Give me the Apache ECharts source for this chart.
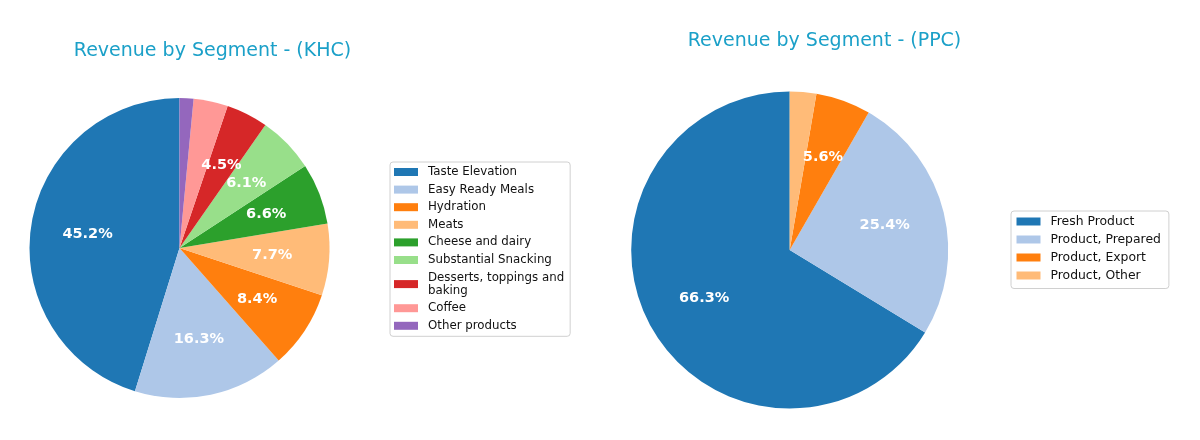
<!DOCTYPE html>
<html>
<head>
<meta charset="utf-8">
<script src="https://cdn.jsdelivr.net/npm/echarts@6/dist/echarts.min.js"></script>
<style>
  html, body { margin: 0; padding: 0; background: #fff; }
  #chart { width: 1200px; height: 440px; }
</style>
</head>
<body>
<div id="chart"></div>
<script>
// segment shares in percent
const khcSegments = ['Taste Elevation', 'Easy Ready Meals', 'Hydration', 'Meats', 'Cheese and dairy',
  'Substantial Snacking', 'Desserts, toppings and baking', 'Coffee', 'Other products']
const khcValues = [45.2, 16.3, 8.4, 7.7, 6.6, 6.1, 4.5, 3.7, 1.5]

const ppcSegments = ['Fresh Product', 'Product, Prepared', 'Product, Export', 'Product, Other']
const ppcValues = [66.3, 25.4, 5.6, 2.7]

const tab20 = ['#1f77b4', '#aec7e8', '#ff7f0e', '#ffbb78', '#2ca02c', '#98df8a', '#d62728', '#ff9896', '#9467bd']
const font = '"DejaVu Sans", Verdana, sans-serif'
const titleColor = '#1ba0c8'

const toData = (names, vals) => names.map((n, i) => ({ name: n, value: vals[i] }))

// legend text wraps like matplotlib did for the long name
const wrap = name => {
    if (name.length <= 22) return name
    const cut = name.lastIndexOf(' ', 22)
    return name.slice(0, cut) + '\n' + name.slice(cut + 1)
}

// main pie draws the wedges, a wider transparent copy puts labels at 0.6 of the radius
const pies = (names, vals, center, r) => {
    const data = toData(names, vals)
    return [{
        type: 'pie',
        center: center,
        radius: [0, r],
        startAngle: 90,
        clockwise: false,
        color: tab20,
        data: data,
        label: { show: false },
        labelLine: { show: false },
        itemStyle: { borderWidth: 0 },
        emphasis: { disabled: true },
        animation: false
    }, {
        type: 'pie',
        center: center,
        radius: [0, r * 1.2],
        startAngle: 90,
        clockwise: false,
        silent: true,
        data: data,
        itemStyle: { color: 'rgba(0,0,0,0)', borderWidth: 0 },
        emphasis: { disabled: true },
        label: {
            show: true,
            position: 'inside',
            formatter: p => p.percent >= 4 ? p.percent.toFixed(1) + '%' : '',
            color: '#fff',
            fontFamily: font,
            fontWeight: 'bold',
            fontSize: 14.5
        },
        labelLine: { show: false },
        animation: false
    }]
}

const legendBase = {
    orient: 'vertical',
    icon: 'rect',
    itemWidth: 24,
    itemHeight: 8,
    borderColor: '#d0d0d0',
    borderWidth: 1,
    borderRadius: 3,
    backgroundColor: '#fff',
    selectedMode: false,
    formatter: wrap
}

const chart = echarts.init(document.getElementById('chart'))
chart.setOption({
    backgroundColor: '#fff',
    title: [{
        text: 'Revenue by Segment - (KHC)',
        left: 207.5,
        top: 37,
        textAlign: 'center',
        textStyle: { color: titleColor, fontFamily: font, fontWeight: 'normal', fontSize: 19 }
    }, {
        text: 'Revenue by Segment - (PPC)',
        left: 819.5,
        top: 27,
        textAlign: 'center',
        textStyle: { color: titleColor, fontFamily: font, fontWeight: 'normal', fontSize: 19 }
    }],
    legend: [Object.assign({}, legendBase, {
        data: khcSegments,
        left: 390,
        top: 162,
        itemGap: 4.6,
        padding: [3.5, 6, 4, 4],
        textStyle: { fontFamily: font, fontSize: 11.8, lineHeight: 13, color: '#111', padding: [0, 0, 0, 5] }
    }), Object.assign({}, legendBase, {
        data: ppcSegments,
        left: 1011,
        top: 211,
        itemGap: 4,
        padding: [3.5, 8, 6, 5.5],
        textStyle: { fontFamily: font, fontSize: 12.4, lineHeight: 14, color: '#111', padding: [0, 0, 0, 5] }
    })],
    series: [].concat(
        pies(khcSegments, khcValues, [179.5, 248], 150),
        pies(ppcSegments, ppcValues, [789.7, 250], 158.5)
    )
})
</script>
</body>
</html>
